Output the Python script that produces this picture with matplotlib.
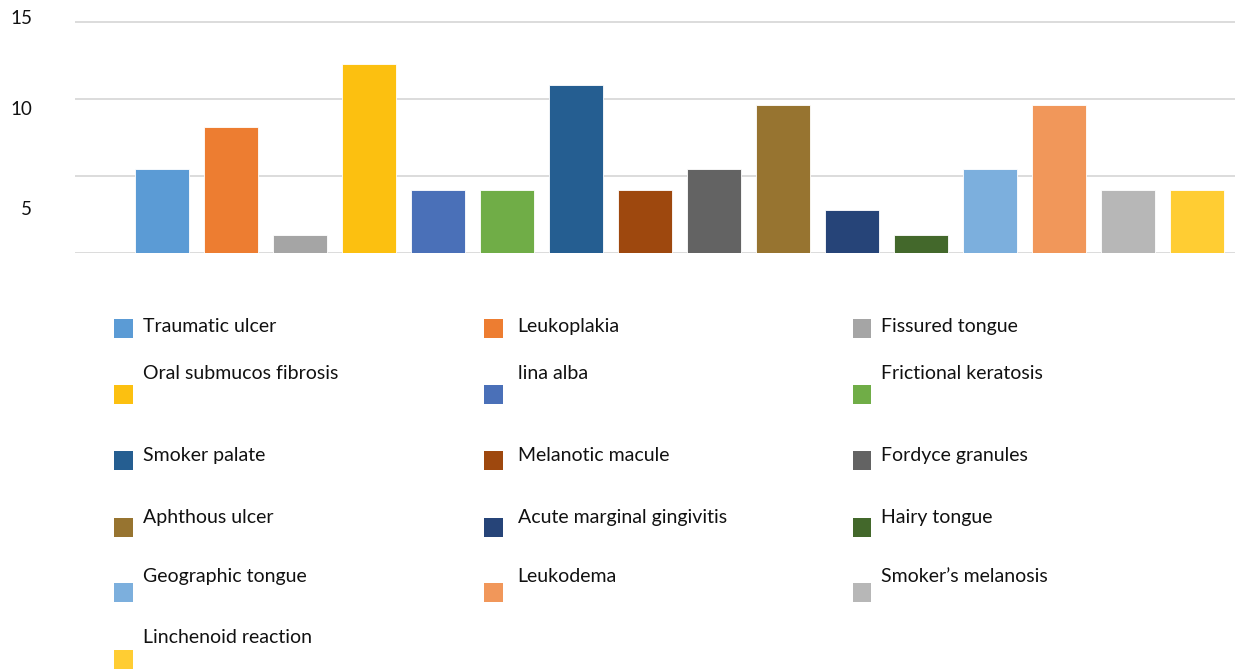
import matplotlib
matplotlib.use('Agg')
from matplotlib import pyplot as plt
from matplotlib.patches import Rectangle

plt.rcParams['font.family'] = ['Lato', 'DejaVu Sans']

# lesion types and their share (%)
lesions = ['Traumatic ulcer', 'Leukoplakia', 'Fissured tongue', 'Oral submucos fibrosis',
           'lina alba', 'Frictional keratosis', 'Smoker palate', 'Melanotic macule',
           'Fordyce granules', 'Aphthous ulcer', 'Acute marginal gingivitis', 'Hairy tongue',
           'Geographic tongue', 'Leukodema', 'Smoker\u2019s melanosis', 'Linchenoid reaction']
shares = [5.45, 8.2, 1.2, 12.3, 4.1, 4.1, 10.9, 4.1, 5.45, 9.6, 2.8, 1.2, 5.45, 9.6, 4.1, 4.1]
colors = ['#5B9BD5', '#ED7D31', '#A5A5A5', '#FCC010', '#4A70B8', '#70AD47', '#255E91', '#9E480E',
          '#636363', '#977430', '#264478', '#43682B', '#7CAFDD', '#F1975A', '#B7B7B7', '#FFCD33']
grid_values = [0, 5, 10, 15]
ytick_labels = ['5', '10', '15']
ytick_spots = [2.92, 9.42, 15.36]

W, H = 1237, 672
fig = plt.figure(figsize=(W / 100, H / 100), dpi=100)

# plot area in pixels: left 75, right 1235, baseline at y=253.3, 15.4 px per unit
y_top = 15.5
ax = fig.add_axes([75 / W, (H - 253.3) / H, 1160 / W, y_top * 15.4 / H])

xs = range(len(lesions))
ax.bar(xs, shares, width=0.78, color=colors, edgecolor='white', linewidth=0.6, zorder=3)

for g in grid_values:
    ax.axhline(g, color='#D9D9D9', linewidth=1.3, zorder=1)

ax.set_xlim(-1.26, 15.55)
ax.set_ylim(0, y_top)
ax.set_xticks([])
ax.set_yticks(ytick_spots, ytick_labels, fontsize=13.5, color='#111111')
ax.tick_params(axis='y', length=0, pad=31)
for s in ax.spines.values():
    s.set_visible(False)

# legend laid out as a three-column grid below the bars
col_marker_x = [114.3, 484.3, 853.0]
col_text_x = [142.7, 517.7, 881.0]
row_text_base = [331.7, 379.0, 460.7, 523.0, 582.0, 642.7]
row_marker_top = [319.3, 385.0, 450.7, 517.7, 583.3, 650.3]
msize_w, msize_h = 18.4, 19.0

for i, (name, c) in enumerate(zip(lesions, colors)):
    r, k = divmod(i, 3)
    mx = col_marker_x[k]
    my = row_marker_top[r]
    fig.add_artist(Rectangle((mx / W, 1 - (my + msize_h) / H), msize_w / W, msize_h / H,
                             transform=fig.transFigure, facecolor=c, edgecolor='none'))
    fig.text(col_text_x[k] / W, 1 - row_text_base[r] / H, name, fontsize=14,
             va='baseline', ha='left', color='#111111')

fig.savefig('out.png', dpi=100, facecolor='white')
